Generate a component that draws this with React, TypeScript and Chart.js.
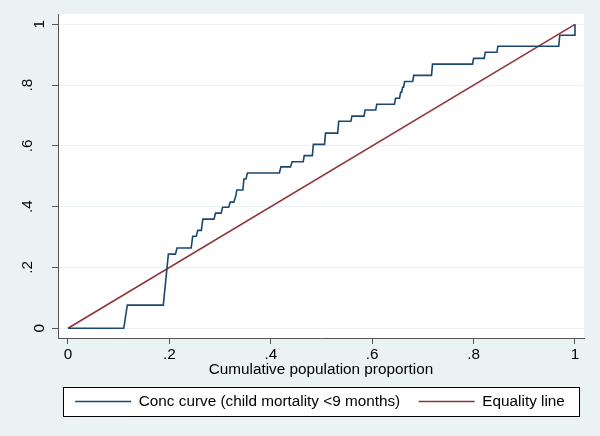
import React, { useEffect, useRef } from "react";
import { Chart, registerables } from "chart.js";

Chart.register(...registerables);

// Concentration curve (step-like)
const concX = [
  0, 0.11, 0.117, 0.188, 0.198, 0.212, 0.215, 0.243, 0.246, 0.253, 0.256, 0.263, 0.266,
  0.288, 0.291, 0.302, 0.305, 0.317, 0.32, 0.327, 0.331, 0.333, 0.345, 0.347, 0.351, 0.354,
  0.417, 0.42, 0.439, 0.442, 0.464, 0.466, 0.482, 0.484, 0.506, 0.508, 0.532, 0.534,
  0.558, 0.56, 0.584, 0.586, 0.607, 0.609, 0.644, 0.646, 0.654, 0.656, 0.658, 0.66,
  0.662, 0.664, 0.68, 0.682, 0.717, 0.719, 0.798, 0.8, 0.821, 0.823, 0.846, 0.848,
  0.968, 0.97, 0.9985, 1,
];
const concY = [
  0, 0, 0.076, 0.076, 0.244, 0.244, 0.264, 0.264, 0.303, 0.303, 0.322, 0.322, 0.359,
  0.359, 0.379, 0.379, 0.398, 0.398, 0.415, 0.415, 0.435, 0.455, 0.455, 0.491, 0.491, 0.511,
  0.511, 0.531, 0.531, 0.548, 0.548, 0.568, 0.568, 0.605, 0.605, 0.642, 0.642, 0.681,
  0.681, 0.698, 0.698, 0.718, 0.718, 0.737, 0.737, 0.757, 0.757, 0.776, 0.776, 0.793,
  0.793, 0.812, 0.812, 0.832, 0.832, 0.869, 0.869, 0.888, 0.888, 0.908, 0.908, 0.928,
  0.928, 0.964, 0.964, 1,
];
const equalityX = [0, 1];
const equalityY = [0, 1];

const seriesLabels = ["Conc curve (child mortality <9 months)", "Equality line"];
const xTitle = "Cumulative population proportion";
const xTickValues = [0, 0.2, 0.4, 0.6, 0.8, 1];
const xTickLabels = ["0", ".2", ".4", ".6", ".8", "1"];
const yTickValues = [0, 0.2, 0.4, 0.6, 0.8, 1];
const yTickLabels = ["0", ".2", ".4", ".6", ".8", "1"];

const FONT = "'Liberation Sans', Arial, Helvetica, sans-serif";
const BG = "#EAF2F3";
const AXIS = "#555555";
const NAVY = "#1A476F";
const MAROON = "#90353B";
const FS = 15.3;

const bgPlugin = {
  id: "stataBg",
  beforeDraw(chart: any) {
    const { ctx, width, height, chartArea } = chart;
    ctx.save();
    ctx.fillStyle = BG;
    ctx.fillRect(0, 0, width, height);
    ctx.fillStyle = "#ffffff";
    ctx.fillRect(chartArea.left, chartArea.top, chartArea.right - chartArea.left, chartArea.bottom - chartArea.top);
    const lg = chart.legend;
    if (lg && lg.legendHitBoxes && lg.legendHitBoxes.length) {
      const hb = lg.legendHitBoxes;
      const l = Math.min(...hb.map((h: any) => h.left)) - 12;
      const r = Math.max(...hb.map((h: any) => h.left + h.width)) + 14;
      const t = hb[0].top - 7;
      const b = hb[0].top + hb[0].height + 7;
      ctx.fillStyle = "#ffffff";
      ctx.fillRect(l, t, r - l, b - t);
      ctx.strokeStyle = "#000000";
      ctx.lineWidth = 1;
      ctx.strokeRect(Math.round(l) + 0.5, Math.round(t) + 0.5, Math.round(r - l), Math.round(b - t));
    }
    ctx.restore();
  },
};

export default function App() {
  const ref = useRef<HTMLCanvasElement | null>(null);
  useEffect(() => {
    if (!ref.current) return;
    const chart = new Chart(ref.current, {
      type: "scatter",
      data: {
        datasets: [
          {
            label: seriesLabels[0],
            data: concX.map((x, i) => ({ x, y: concY[i] })),
            showLine: true,
            borderColor: NAVY,
            backgroundColor: NAVY,
            borderWidth: 1.6,
            pointRadius: 0,
            tension: 0,
          },
          {
            label: seriesLabels[1],
            data: equalityX.map((x, i) => ({ x, y: equalityY[i] })),
            showLine: true,
            borderColor: MAROON,
            backgroundColor: MAROON,
            borderWidth: 1.6,
            pointRadius: 0,
            tension: 0,
          },
        ],
      },
      options: {
        animation: false,
        responsive: false,
        maintainAspectRatio: false,
        layout: { padding: { left: 56, right: 16, top: 14, bottom: 16.85 } },
        plugins: {
          tooltip: { enabled: false },
          legend: {
            position: "bottom",
            labels: {
              usePointStyle: true,
              pointStyle: "line",
              pointStyleWidth: 56,
              padding: 18.5,
              color: "#000",
              font: { family: FONT, size: FS },
            },
          },
        },
        scales: {
          x: {
            type: "linear",
            min: -0.0197,
            max: 1.0178,
            afterBuildTicks: (s: any) => {
              s.ticks = xTickValues.map((v) => ({ value: v }));
            },
            afterFit: (s: any) => {
              s.height = 37.35;
            },
            ticks: {
              color: "#000",
              padding: 2,
              maxRotation: 0,
              minRotation: 0,
              font: { family: FONT, size: FS },
              callback: (v: any) => {
                const i = xTickValues.indexOf(Number(v));
                return i >= 0 ? xTickLabels[i] : "";
              },
            },
            grid: { drawOnChartArea: false, drawTicks: true, tickLength: 6, tickColor: AXIS, color: AXIS },
            border: { display: true, color: AXIS, width: 1 },
            title: {
              display: true,
              text: xTitle,
              color: "#000",
              font: { family: FONT, size: FS },
              padding: { top: 0, bottom: -3.33 },
            },
          },
          y: {
            type: "linear",
            min: -0.032,
            max: 1.034,
            afterBuildTicks: (s: any) => {
              s.ticks = yTickValues.map((v) => ({ value: v }));
            },
            afterFit: (s: any) => {
              s.width = 2;
            },
            ticks: {
              color: "#000",
              mirror: true,
              padding: -24.4,
              minRotation: 90,
              maxRotation: 90,
              crossAlign: "center",
              font: { family: FONT, size: FS, lineHeight: 1.6 },
              callback: (v: any) => {
                const i = yTickValues.indexOf(Number(v));
                const lab = i >= 0 ? yTickLabels[i] : "";
                return lab.startsWith(".") ? [lab, ""] : lab;
              },
            },
            grid: { color: BG, lineWidth: 1, drawTicks: true, tickLength: 6, tickColor: AXIS },
            border: { display: true, color: AXIS, width: 1 },
          },
        },
      },
      plugins: [bgPlugin],
    } as any);
    return () => chart.destroy();
  }, []);
  return (
    <div style={{ position: "fixed", left: 0, top: 0, width: 600, height: 436 }}>
      <canvas ref={ref} width={600} height={436} />
    </div>
  );
}
